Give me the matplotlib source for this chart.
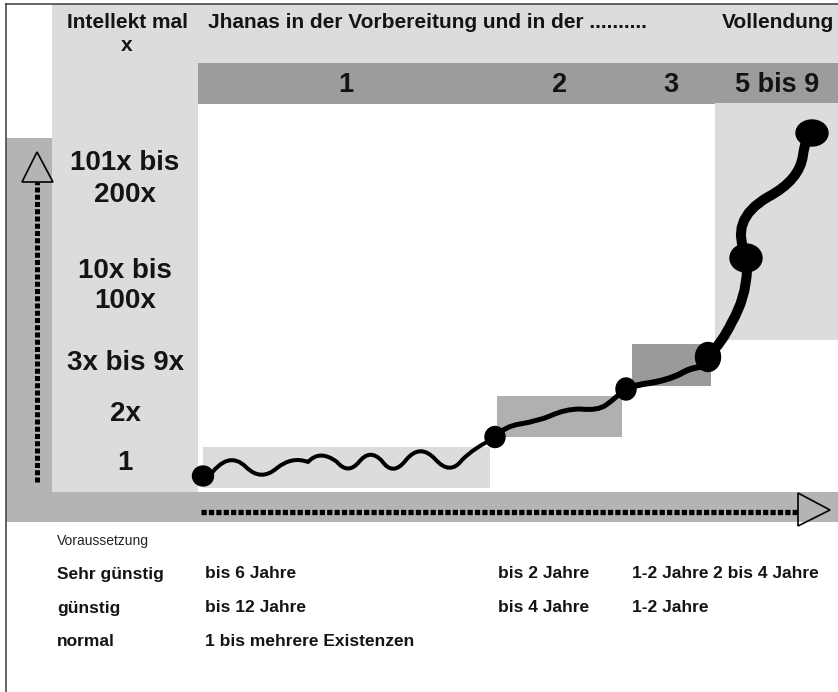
import matplotlib
matplotlib.use('Agg')
import matplotlib.pyplot as plt
from matplotlib.patches import Rectangle, Ellipse, Polygon, PathPatch
from matplotlib.path import Path

# Beschriftungen
title_left = 'Intellekt mal\nx'
title_mid = 'Jhanas in der Vorbereitung und in der ..........'
title_right = 'Vollendung'
level_labels = ['101x bis\n200x', '10x bis\n100x', '3x bis 9x', '2x', '1']
level_y = [179, 286, 363, 414, 463]
stage_labels = ['1', '2', '3', '5 bis 9']
stage_x = [346, 560, 671, 777]

# Tabelle unten
cond_title = 'Voraussetzung'
cond_labels = ['Sehr günstig', 'günstig', 'normal']
dur_sehr = ['bis 6 Jahre', 'bis 2 Jahre', '1-2 Jahre', '2 bis 4 Jahre']
dur_guenstig = ['bis 12 Jahre', 'bis 4 Jahre', '1-2 Jahre', '']
dur_normal = ['1 bis mehrere Existenzen', '', '', '']
col_x = [205, 498, 632, 713]
row_y = [574, 608, 642]

# Kurve (quadratische Bezier-Stützpunkte, Bildpixel)
seg1 = [(208, 478), (228, 449), (246, 467), (261, 482), (277, 468), (292, 456), (308, 462),
        (320, 449), (337, 462), (348, 475), (359, 462), (370, 448), (382, 461),
        (393, 477), (406, 460), (420, 443), (435, 459), (450, 476), (462, 460),
        (475, 447), (495, 438)]
seg2 = [(495, 437), (505, 426), (520, 424), (538, 421), (550, 416), (565, 409), (580, 409),
        (598, 411), (606, 405), (616, 398), (626, 388)]
seg3 = [(626, 388), (636, 385), (650, 383), (668, 380), (680, 374), (690, 368), (700, 367),
        (705, 362), (708, 356)]
seg4 = [(708, 356), (722, 343), (732, 322), (746, 298), (747, 270), (748, 262), (747, 257),
        (728, 220), (768, 197), (800, 180), (803, 155), (805, 140), (811, 133)]
dots = [(203, 476, 21, 20), (495, 437, 20, 21), (626, 389, 20, 22),
        (708, 357, 25, 29), (746, 258, 32, 28), (812, 133, 32, 26)]

LIGHT = '#dcdcdc'
MID = '#b4b4b4'
DARK = '#9c9c9c'
TXT = '#141414'

fig = plt.figure(figsize=(8.38, 6.92), dpi=100)
ax = fig.add_axes([0, 0, 1, 1])
ax.set_xlim(0, 838)
ax.set_ylim(692, 0)
ax.axis('off')

# Hintergrundflächen
ax.add_patch(Rectangle((52, 4), 786, 59, color=LIGHT, lw=0))
ax.add_patch(Rectangle((52, 63), 146, 429, color=LIGHT, lw=0))
ax.add_patch(Rectangle((198, 63), 640, 41, color=DARK, lw=0))
ax.add_patch(Rectangle((6, 138), 46, 384, color=MID, lw=0))
ax.add_patch(Rectangle((6, 492), 832, 30, color=MID, lw=0))

# Stufen-Kästen
ax.add_patch(Rectangle((203, 447), 287, 41, color=LIGHT, lw=0))
ax.add_patch(Rectangle((497, 396), 125, 41, color='#b0b0b0', lw=0))
ax.add_patch(Rectangle((632, 344), 79, 42, color='#9a9a9a', lw=0))
ax.add_patch(Rectangle((715, 103), 123, 237, color=LIGHT, lw=0))

# Rahmenlinien
ax.plot([6, 838], [4, 4], color='#3a3a3a', lw=1.1)
ax.plot([6, 6], [4, 692], color='#3a3a3a', lw=1.1)

# Pfeile
ax.plot([37, 37], [482, 182], color='black', lw=3.6, ls=(0, (1.0, 0.45)), solid_capstyle='butt')
ax.add_patch(Polygon([(22, 182), (53, 182), (37, 152)], closed=True, fill=False, ec='black', lw=1.2))
ax.plot([201, 798], [512, 512], color='black', lw=3.8, ls=(0, (1.0, 0.4)), solid_capstyle='butt')
ax.add_patch(Polygon([(798, 493), (798, 526), (830, 510)], closed=True, fill=False, ec='black', lw=1.2))

# Kurve
for seg, lw in [(seg1, 2.9), (seg2, 3.6), (seg3, 4.3), (seg4, 7.2)]:
    codes = [Path.MOVETO] + [Path.CURVE3] * (len(seg) - 1)
    ax.add_patch(PathPatch(Path(seg, codes), fill=False, ec='black', lw=lw,
                           capstyle='round', joinstyle='round', zorder=4))
for x, y, w, h in dots:
    ax.add_patch(Ellipse((x, y), w, h, color='black', zorder=5))

# Texte oben
bold = dict(family='Liberation Sans', weight='bold', color=TXT)
ax.text(127, 34, title_left, ha='center', va='center', fontsize=15, linespacing=1.25, **bold)
ax.text(208, 23, title_mid, ha='left', va='center', fontsize=15, **bold)
ax.text(722, 23, title_right, ha='left', va='center', fontsize=15, **bold)
for lab, x in zip(stage_labels, stage_x):
    ax.text(x, 85, lab, ha='center', va='center', fontsize=19.5, **bold)
for lab, y in zip(level_labels, level_y):
    ax.text(125, y, lab, ha='center', va='center', fontsize=20, linespacing=1.25, **bold)

# Tabelle
ax.text(57, 541, cond_title, ha='left', va='center', fontsize=10, family='Liberation Sans', color='#222222')
for lab, durs, y in zip(cond_labels, [dur_sehr, dur_guenstig, dur_normal], row_y):
    ax.text(57, y, lab, ha='left', va='center', fontsize=12.5, **bold)
    for d, x in zip(durs, col_x):
        if d:
            ax.text(x, y, d, ha='left', va='center', fontsize=12.5, **bold)

fig.savefig('out.png', dpi=100)
